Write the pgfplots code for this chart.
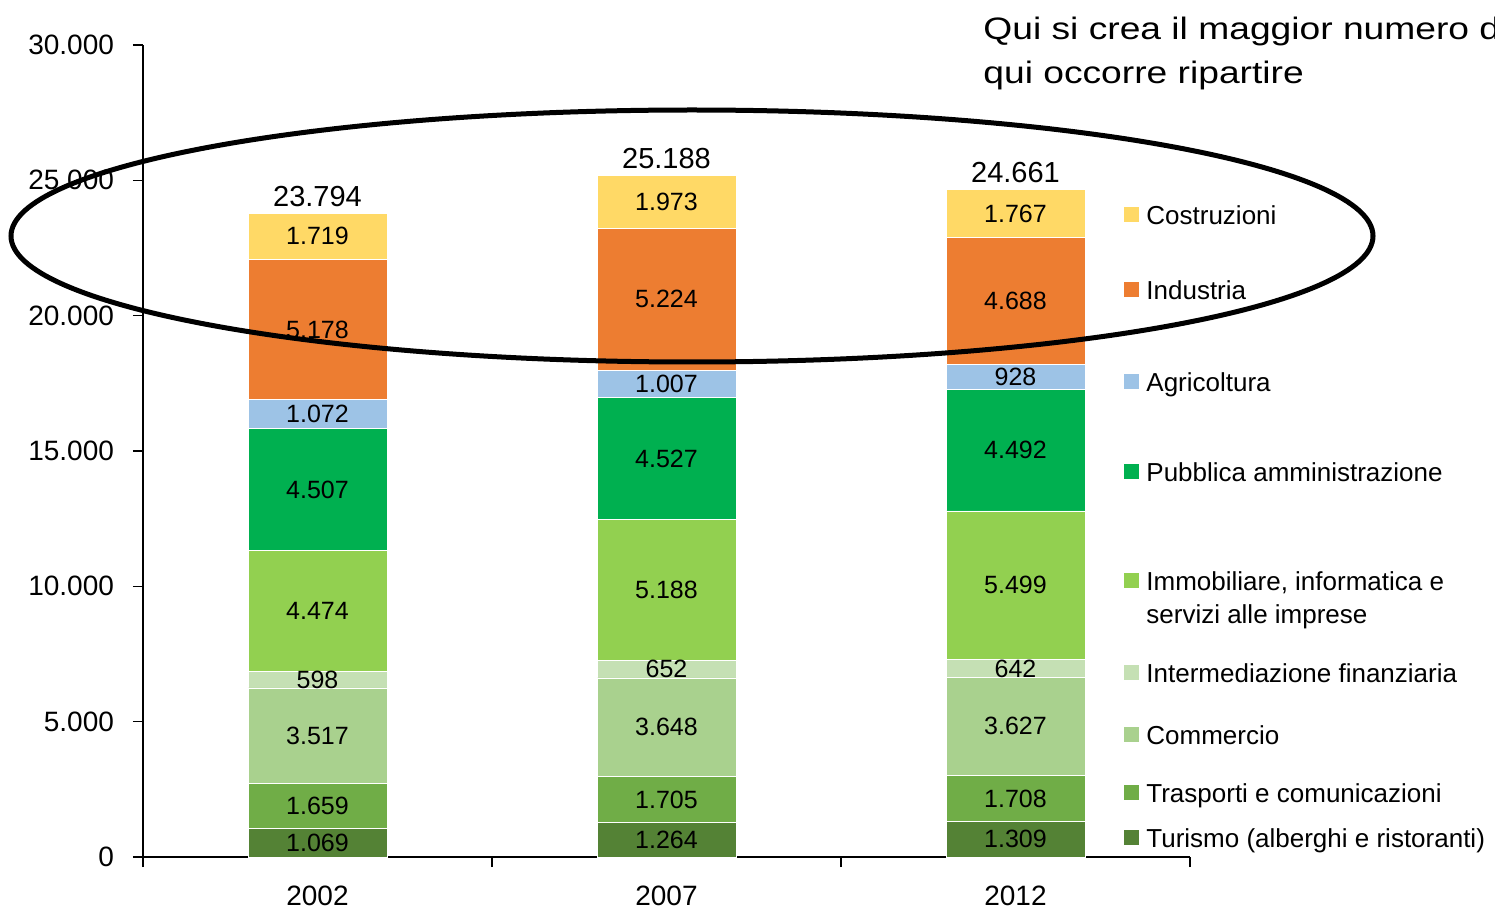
\documentclass[border=0pt]{standalone}
\usepackage{fontspec}
\setmainfont{Liberation Sans}
\usepackage{pgfplots}
\usepackage{pgfplotstable}
\pgfplotsset{compat=1.18}
\usepackage{graphicx}

\definecolor{cTur}{HTML}{548235}
\definecolor{cTra}{HTML}{70AD47}
\definecolor{cCom}{HTML}{A9D18E}
\definecolor{cInt}{HTML}{C5E0B4}
\definecolor{cImm}{HTML}{92D050}
\definecolor{cPA}{HTML}{00B050}
\definecolor{cAgr}{HTML}{9DC3E6}
\definecolor{cInd}{HTML}{ED7D31}
\definecolor{cCos}{HTML}{FFD966}

\pgfkeys{/pgf/number format/.cd,fixed,precision=0,1000 sep={.},assume math mode=true}

\pgfplotstableread{
x Tur Tra Com Int Imm PA Agr Ind Cos Tot
0 1069 1659 3517 598 4474 4507 1072 5178 1719 23794
1 1264 1705 3648 652 5188 4527 1007 5224 1973 25188
2 1309 1708 3627 642 5499 4492 928 4688 1767 24661
}\data

\pgfplotsset{
  seg/.style={fill=#1, draw=white, line width=0.4pt,
    nodes near coords={\pgfmathprintnumber{\pgfplotspointmeta}},
    point meta=explicit,
    every node near coord/.style={anchor=center, inner sep=0pt,
      font=\fontsize{12.5}{15}\selectfont, text=black}},
  frame/.style={
    at={(71.5pt,27.5pt)}, anchor=south west,
    scale only axis, width=523.5pt, height=406pt,
    xmin=-0.5, xmax=2.5, ymin=0, ymax=30000, clip=false},
}

\newcommand\legitem[3]{%
  \fill[#1] (1124,{912-#2+2.5}) rectangle (1139,{912-#2+17.5});
  \node[anchor=base west, inner sep=0pt, font=\fontsize{13}{15}\selectfont] at (1146,{912-#2}) {#3};
}

\begin{document}
\begin{tikzpicture}
\useasboundingbox (0,0) rectangle (747.5pt,456pt);
\clip (0,0) rectangle (747.5pt,456pt);
\begin{axis}[
  frame,
  ybar stacked, bar width=69.5pt,
  axis x line*=bottom, axis y line*=left,
  axis line style={line width=1pt, black},
  tick align=outside, major tick length=5pt,
  tick style={line width=0.8pt, black},
  ytick={0,5000,10000,15000,20000,25000,30000},
  scaled y ticks=false,
  yticklabel={\pgfmathprintnumber{\tick}},
  yticklabel style={xshift=-6pt},
  xtick={-0.5,0.5,1.5,2.5}, xticklabels={,,,},
  extra x ticks={0,1,2}, extra x tick labels={2002,2007,2012},
  extra x tick style={major tick length=0pt, xticklabel style={yshift=-11pt}},
  tick label style={font=\fontsize{14}{17}\selectfont},
]
\addplot[seg=cTur] table[x=x, y=Tur, meta=Tur] {\data};
\addplot[seg=cTra] table[x=x, y=Tra, meta=Tra] {\data};
\addplot[seg=cCom] table[x=x, y=Com, meta=Com] {\data};
\addplot[seg=cInt] table[x=x, y=Int, meta=Int] {\data};
\addplot[seg=cImm] table[x=x, y=Imm, meta=Imm] {\data};
\addplot[seg=cPA] table[x=x, y=PA, meta=PA] {\data};
\addplot[seg=cAgr] table[x=x, y=Agr, meta=Agr] {\data};
\addplot[seg=cInd] table[x=x, y=Ind, meta=Ind] {\data};
\addplot[seg=cCos] table[x=x, y=Cos, meta=Cos] {\data};
\end{axis}
\begin{axis}[frame, hide axis]
\addplot[draw=none, mark=none, point meta=explicit,
  nodes near coords={\pgfmathprintnumber{\pgfplotspointmeta}},
  every node near coord/.style={anchor=south, inner sep=0pt, yshift=3pt,
    font=\fontsize{14.5}{17}\selectfont, text=black}]
  table[x=x, y=Tot, meta=Tot] {\data};
\end{axis}
\begin{scope}[x=0.5pt,y=0.5pt]
\legitem{cCos}{225}{Costruzioni}
\legitem{cInd}{300}{Industria}
\legitem{cAgr}{392}{Agricoltura}
\legitem{cPA}{482}{Pubblica amministrazione}
\legitem{cImm}{590}{Immobiliare, informatica e}
\node[anchor=base west, inner sep=0pt, font=\fontsize{13}{15}\selectfont] at (1146,{912-623}) {servizi alle imprese};
\legitem{cInt}{682}{Intermediazione finanziaria}
\legitem{cCom}{744}{Commercio}
\legitem{cTra}{802}{Trasporti e comunicazioni}
\legitem{cTur}{847}{Turismo (alberghi e ristoranti)}
\draw[line width=2.5pt, black] (692,676) ellipse [x radius=681, y radius=126];
\node[anchor=base west, inner sep=0pt] at (983,{912-40}) {\scalebox{1.2}[1]{\fontsize{15.5}{18}\selectfont Qui si crea il maggior numero di}};
\node[anchor=base west, inner sep=0pt] at (983,{912-84}) {\scalebox{1.2}[1]{\fontsize{15.5}{18}\selectfont qui occorre ripartire}};
\end{scope}
\end{tikzpicture}
\end{document}
